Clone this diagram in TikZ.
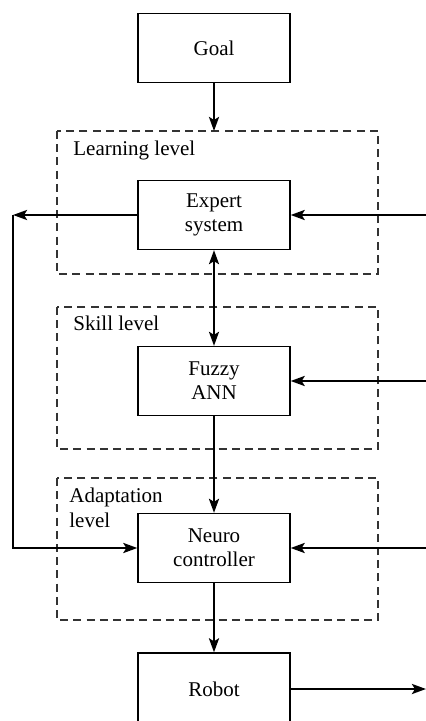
\documentclass[tikz,border=0pt]{standalone}
\usepackage{fontspec}
\setmainfont{Liberation Serif}
\newfontfamily\timesfont{Liberation Serif}
\usetikzlibrary{arrows.meta}

\begin{document}
\begin{tikzpicture}[x=0.5pt, y=-0.5pt, >={Stealth[length=7pt, width=5pt, inset=1.5pt]},
  box/.style={draw, line width=0.65pt, minimum width=76pt, minimum height=34.5pt,
    inner sep=0pt, align=center, font=\timesfont\fontsize{10.5}{12}\selectfont},
  level/.style={draw=black!80, dash pattern=on 4pt off 2.6pt, line width=0.6pt},
  lbl/.style={anchor=west, inner sep=0pt, align=left, font=\timesfont\fontsize{10.5}{12.5}\selectfont},
  arr/.style={->, line width=1.3pt}]
  \useasboundingbox (0,0) rectangle (426,721);

  \coordinate (gin) at (214,131);
  \coordinate (fb)  at (13,215);
  \coordinate (in1) at (426,215);
  \coordinate (in2) at (426,381);
  \coordinate (in3) at (426,548);
  \coordinate (out) at (426,689);

  % dashed levels
  \draw[level] (57,131) rectangle (378,274);
  \draw[level] (57,307) rectangle (378,449);
  \draw[level] (57,478) rectangle (378,620);

  \node[lbl] (learn) at (73,150) {Learning level};
  \node[lbl] (skill) at (73,323) {Skill level};
  \node[lbl] (adapt) at (69,508) {Adaptation\\level};

  \node[box] (goal)   at (214,48)  {Goal};
  \node[box] (expert) at (214,215) {Expert\\system};
  \node[box] (fuzzy)  at (214,381) {Fuzzy\\ANN};
  \node[box] (neuro)  at (214,548) {Neuro\\controller};
  \node[box, minimum height=36pt] (robot) at (214,689) {Robot};

  \draw[arr] (goal) -- (gin);
  \draw[arr, <->, line width=1.1pt] (expert) -- (fuzzy);
  \draw[arr] (fuzzy) -- (neuro);
  \draw[arr] (neuro) -- (robot);

  % feedback to the controller
  \draw[arr] (expert.west) -- (fb);
  \draw[arr] (fb) |- (neuro.west);

  % outside inputs
  \draw[arr] (in1) -- (expert.east);
  \draw[arr] (in2) -- (fuzzy.east);
  \draw[arr] (in3) -- (neuro.east);
  \draw[arr] (robot.east) -- (out);
\end{tikzpicture}
\end{document}
